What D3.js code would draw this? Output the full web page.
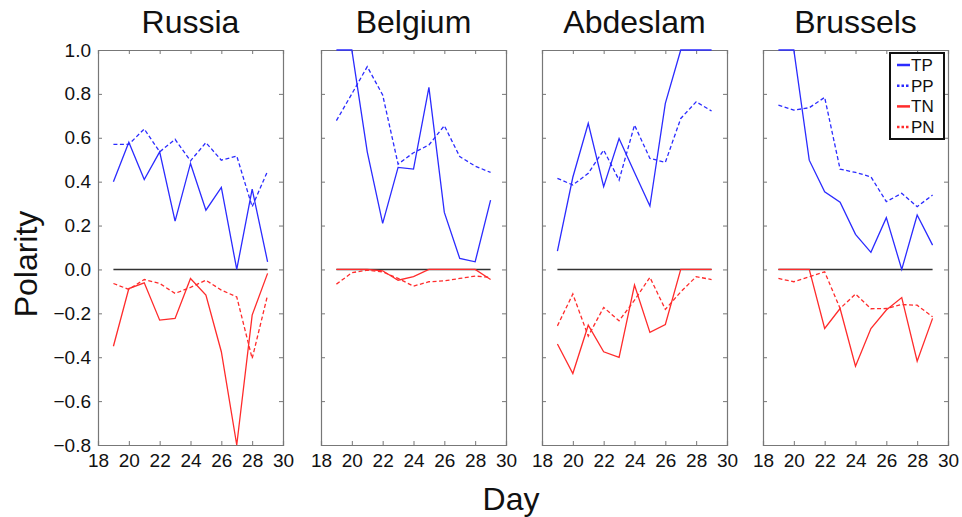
<!DOCTYPE html>
<html>
<head>
<meta charset="utf-8">
<script src="https://cdn.jsdelivr.net/npm/d3@7"></script>
<style>
  body { margin: 0; background: #fff; }
  text { font-family: "Liberation Sans", Arial, sans-serif; fill: #111; }
</style>
</head>
<body>
<svg id="chart" width="962" height="517"></svg>
<script>
// data
var days = [19, 20, 21, 22, 23, 24, 25, 26, 27, 28, 29];
var panels = ["Russia", "Belgium", "Abdeslam", "Brussels"];
var seriesNames = ["TP", "PP", "TN", "PN"];
var xTicks = [18, 20, 22, 24, 26, 28, 30];
var yTicks = [1.0, 0.8, 0.6, 0.4, 0.2, 0.0, -0.2, -0.4, -0.6, -0.8];

var russiaTP = [0.40, 0.58, 0.41, 0.536, 0.22, 0.483, 0.27, 0.374, 0.0, 0.366, 0.035];
var russiaPP = [0.57, 0.57, 0.64, 0.536, 0.593, 0.495, 0.578, 0.498, 0.517, 0.286, 0.448];
var russiaTN = [-0.35, -0.087, -0.061, -0.231, -0.223, -0.041, -0.117, -0.375, -0.80, -0.208, -0.018];
var russiaPN = [-0.064, -0.091, -0.046, -0.064, -0.109, -0.082, -0.049, -0.094, -0.125, -0.406, -0.117];

var belgiumTP = [1.0, 1.0, 0.536, 0.21, 0.465, 0.457, 0.83, 0.26, 0.05, 0.035, 0.316];
var belgiumPP = [0.678, 0.80, 0.924, 0.795, 0.48, 0.532, 0.567, 0.655, 0.514, 0.471, 0.442];
var belgiumTN = [0, 0, 0, -0.006, -0.049, -0.033, 0, 0, 0, 0, -0.046];
var belgiumPN = [-0.067, -0.015, -0.003, -0.011, -0.041, -0.076, -0.056, -0.052, -0.041, -0.03, -0.036];

var abdeslamTP = [0.084, 0.42, 0.666, 0.377, 0.597, 0.442, 0.289, 0.757, 1.0, 1.0, 1.0];
var abdeslamPP = [0.415, 0.385, 0.438, 0.544, 0.407, 0.658, 0.506, 0.488, 0.688, 0.764, 0.722];
var abdeslamTN = [-0.34, -0.474, -0.254, -0.375, -0.401, -0.071, -0.287, -0.251, 0, 0, 0];
var abdeslamPN = [-0.257, -0.112, -0.304, -0.173, -0.234, -0.14, -0.036, -0.182, -0.102, -0.033, -0.046];

var brusselsTP = [1.0, 1.0, 0.498, 0.354, 0.306, 0.16, 0.078, 0.236, 0, 0.248, 0.111];
var brusselsPP = [0.749, 0.726, 0.737, 0.784, 0.457, 0.442, 0.422, 0.309, 0.347, 0.286, 0.339];
var brusselsTN = [0, 0, 0, -0.269, -0.178, -0.441, -0.269, -0.185, -0.128, -0.418, -0.223];
var brusselsPN = [-0.041, -0.056, -0.033, -0.011, -0.178, -0.112, -0.179, -0.178, -0.16, -0.163, -0.216];

var values = [
  [russiaTP, russiaPP, russiaTN, russiaPN],
  [belgiumTP, belgiumPP, belgiumTN, belgiumPN],
  [abdeslamTP, abdeslamPP, abdeslamTN, abdeslamPN],
  [brusselsTP, brusselsPP, brusselsTN, brusselsPN]
];

var colors = {TP: "#2b2bff", PP: "#2b2bff", TN: "#ff2b2b", PN: "#ff2b2b"};
var dashes = {TP: null, PP: "4,2.5", TN: null, PN: "4,2.5"};

var svg = d3.select("#chart");
var panelLeft = [98, 321, 542, 763];
var pw = 185, yTop = 50, yBottom = 445;

var y = d3.scaleLinear().domain([-0.8, 1.0]).range([yBottom, yTop]);

panels.forEach(function(name, p) {
  var x = d3.scaleLinear().domain([18, 30]).range([0, pw]);
  var g = svg.append("g").attr("transform", "translate(" + panelLeft[p] + ",0)");

  var clipId = "clip" + p;
  g.append("clipPath").attr("id", clipId).append("rect")
    .attr("x", 0).attr("y", yTop - 1).attr("width", pw).attr("height", yBottom - yTop + 2);

  // ticks on all four sides, pointing inward
  var bottomAxis = d3.axisBottom(x).tickValues(xTicks).tickSize(-4).tickPadding(9).tickFormat(d3.format("d"));
  var topAxis = d3.axisTop(x).tickValues(xTicks).tickSize(-4).tickFormat("");
  var leftAxis = d3.axisLeft(y).tickValues(yTicks).tickSize(-4).tickPadding(7)
    .tickFormat(function(d) { return p === 0 ? d3.format(".1f")(d).replace("-", "\u2212") : ""; });
  var rightAxis = d3.axisRight(y).tickValues(yTicks).tickSize(-4).tickFormat("");

  var ab = g.append("g").attr("transform", "translate(0," + yBottom + ")").call(bottomAxis);
  var at = g.append("g").attr("transform", "translate(0," + yTop + ")").call(topAxis);
  var al = g.append("g").call(leftAxis);
  var ar = g.append("g").attr("transform", "translate(" + pw + ",0)").call(rightAxis);
  [ab, at, al, ar].forEach(function(a) {
    a.select(".domain").attr("stroke", "#777").attr("stroke-width", 1.2);
    a.selectAll(".tick line").attr("stroke", "#777");
    a.selectAll(".tick text").style("font-size", "19px").attr("fill", "#222");
  });

  // zero reference line
  g.append("line")
    .attr("x1", x(19)).attr("x2", x(29))
    .attr("y1", y(0)).attr("y2", y(0))
    .attr("stroke", "#333").attr("stroke-width", 1.5);

  var line = d3.line()
    .x(function(d, i) { return x(days[i]); })
    .y(function(d) { return y(d); });

  seriesNames.forEach(function(s, k) {
    g.append("path")
      .datum(values[p][k])
      .attr("clip-path", "url(#" + clipId + ")")
      .attr("d", line)
      .attr("fill", "none")
      .attr("stroke", colors[s])
      .attr("stroke-width", 1.3)
      .attr("stroke-dasharray", dashes[s]);
  });

  g.append("text")
    .attr("x", pw / 2).attr("y", 33)
    .attr("text-anchor", "middle")
    .style("font-size", "32px")
    .text(name);
});

// legend in last panel
var lg = svg.append("g").attr("transform", "translate(890,53)");
lg.append("rect").attr("width", 54).attr("height", 86)
  .attr("fill", "#fff").attr("stroke", "#111").attr("stroke-width", 2);
seriesNames.forEach(function(s, k) {
  var yy = 12 + k * 20.7;
  lg.append("line").attr("x1", 7).attr("x2", 20).attr("y1", yy).attr("y2", yy)
    .attr("stroke", colors[s]).attr("stroke-width", 2.5)
    .attr("stroke-dasharray", dashes[s] ? "2.5,2" : null);
  lg.append("text").attr("x", 21).attr("y", yy + 6).style("font-size", "17px").text(s);
});

svg.append("text")
  .attr("transform", "translate(37,264) rotate(-90)")
  .attr("text-anchor", "middle")
  .style("font-size", "32px")
  .text("Polarity");

svg.append("text")
  .attr("x", 511).attr("y", 510)
  .attr("text-anchor", "middle")
  .style("font-size", "32px")
  .text("Day");
</script>
</body>
</html>
